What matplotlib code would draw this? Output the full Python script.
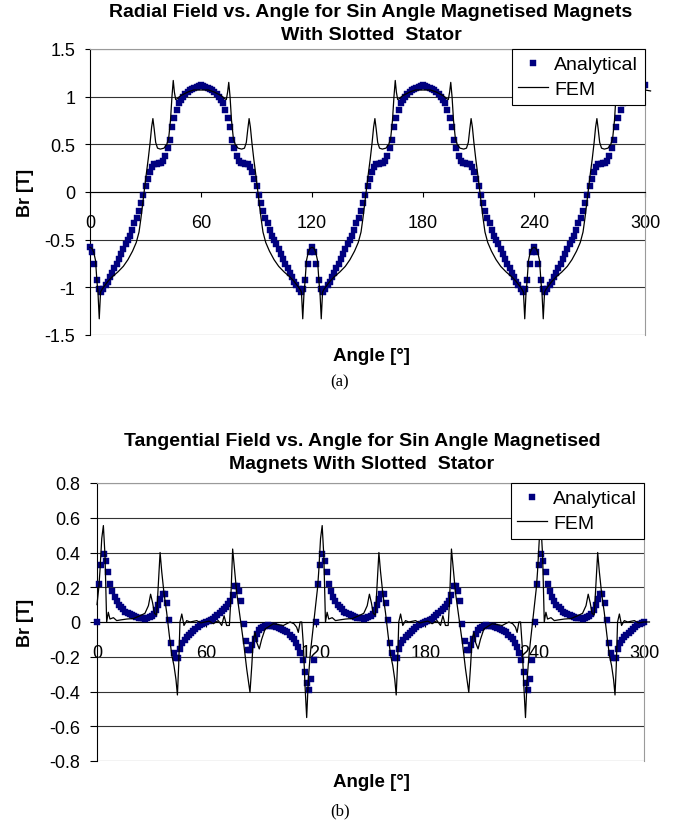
import matplotlib
matplotlib.use("Agg")
import matplotlib.pyplot as plt

plt.rcParams['font.family'] = ['Liberation Sans', 'DejaVu Sans']
plt.rcParams['axes.unicode_minus'] = False

# ---------------- data ----------------
x_ticks = [0, 60, 120, 180, 240, 300]
x_tick_labels = ['0', '60', '120', '180', '240', '300']
radial_yticks = [-1.5, -1, -0.5, 0, 0.5, 1, 1.5]
radial_ylabels = ['-1.5', '-1', '-0.5', '0', '0.5', '1', '1.5']
tang_yticks = [-0.8, -0.6, -0.4, -0.2, 0, 0.2, 0.4, 0.6, 0.8]
tang_ylabels = ['-0.8', '-0.6', '-0.4', '-0.2', '0', '0.2', '0.4', '0.6', '0.8']

analytical_angle = [
    0, 1.2, 2.4, 3.6, 4.8, 6, 7.2, 8.4, 9.6, 10.8,
    12, 13.2, 14.4, 15.6, 16.8, 18, 19.2, 20.4, 21.6, 22.8,
    24, 25.2, 26.4, 27.6, 28.8, 30, 31.2, 32.4, 33.6, 34.8,
    36, 37.2, 38.4, 39.6, 40.8, 42, 43.2, 44.4, 45.6, 46.8,
    48, 49.2, 50.4, 51.6, 52.8, 54, 55.2, 56.4, 57.6, 58.8,
    60, 61.2, 62.4, 63.6, 64.8, 66, 67.2, 68.4, 69.6, 70.8,
    72, 73.2, 74.4, 75.6, 76.8, 78, 79.2, 80.4, 81.6, 82.8,
    84, 85.2, 86.4, 87.6, 88.8, 90, 91.2, 92.4, 93.6, 94.8,
    96, 97.2, 98.4, 99.6, 100.8, 102, 103.2, 104.4, 105.6, 106.8,
    108, 109.2, 110.4, 111.6, 112.8, 114, 115.2, 116.4, 117.6, 118.8,
    120, 121.2, 122.4, 123.6, 124.8, 126, 127.2, 128.4, 129.6, 130.8,
    132, 133.2, 134.4, 135.6, 136.8, 138, 139.2, 140.4, 141.6, 142.8,
    144, 145.2, 146.4, 147.6, 148.8, 150, 151.2, 152.4, 153.6, 154.8,
    156, 157.2, 158.4, 159.6, 160.8, 162, 163.2, 164.4, 165.6, 166.8,
    168, 169.2, 170.4, 171.6, 172.8, 174, 175.2, 176.4, 177.6, 178.8,
    180, 181.2, 182.4, 183.6, 184.8, 186, 187.2, 188.4, 189.6, 190.8,
    192, 193.2, 194.4, 195.6, 196.8, 198, 199.2, 200.4, 201.6, 202.8,
    204, 205.2, 206.4, 207.6, 208.8, 210, 211.2, 212.4, 213.6, 214.8,
    216, 217.2, 218.4, 219.6, 220.8, 222, 223.2, 224.4, 225.6, 226.8,
    228, 229.2, 230.4, 231.6, 232.8, 234, 235.2, 236.4, 237.6, 238.8,
    240, 241.2, 242.4, 243.6, 244.8, 246, 247.2, 248.4, 249.6, 250.8,
    252, 253.2, 254.4, 255.6, 256.8, 258, 259.2, 260.4, 261.6, 262.8,
    264, 265.2, 266.4, 267.6, 268.8, 270, 271.2, 272.4, 273.6, 274.8,
    276, 277.2, 278.4, 279.6, 280.8, 282, 283.2, 284.4, 285.6, 286.8,
    288, 289.2, 290.4, 291.6, 292.8, 294, 295.2, 296.4, 297.6, 298.8,
    300]

radial_analytical = [
    # 0 - 118.8
    -0.58, -0.63, -0.76, -0.92, -1.02, -1.05, -1.02, -0.98, -0.94, -0.89,
    -0.85, -0.80, -0.75, -0.70, -0.65, -0.60, -0.55, -0.50, -0.46, -0.40,
    -0.33, -0.27, -0.20, -0.12, -0.03, 0.06, 0.14, 0.21, 0.26, 0.29,
    0.29, 0.30, 0.30, 0.32, 0.38, 0.46, 0.55, 0.68, 0.78, 0.86,
    0.93, 0.97, 1.00, 1.03, 1.05, 1.07, 1.08, 1.09, 1.10, 1.11,
    1.12, 1.11, 1.10, 1.09, 1.08, 1.07, 1.05, 1.03, 1.00, 0.97,
    0.93, 0.86, 0.78, 0.68, 0.55, 0.46, 0.38, 0.32, 0.30, 0.30,
    0.29, 0.29, 0.26, 0.21, 0.14, 0.06, -0.03, -0.12, -0.20, -0.27,
    -0.33, -0.40, -0.46, -0.50, -0.55, -0.60, -0.65, -0.70, -0.75, -0.80,
    -0.85, -0.89, -0.94, -0.98, -1.02, -1.05, -1.02, -0.92, -0.76, -0.63,
    # 120 - 238.8
    -0.58, -0.63, -0.76, -0.92, -1.02, -1.05, -1.02, -0.98, -0.94, -0.89,
    -0.85, -0.80, -0.75, -0.70, -0.65, -0.60, -0.55, -0.50, -0.46, -0.40,
    -0.33, -0.27, -0.20, -0.12, -0.03, 0.06, 0.14, 0.21, 0.26, 0.29,
    0.29, 0.30, 0.30, 0.32, 0.38, 0.46, 0.55, 0.68, 0.78, 0.86,
    0.93, 0.97, 1.00, 1.03, 1.05, 1.07, 1.08, 1.09, 1.10, 1.11,
    1.12, 1.11, 1.10, 1.09, 1.08, 1.07, 1.05, 1.03, 1.00, 0.97,
    0.93, 0.86, 0.78, 0.68, 0.55, 0.46, 0.38, 0.32, 0.30, 0.30,
    0.29, 0.29, 0.26, 0.21, 0.14, 0.06, -0.03, -0.12, -0.20, -0.27,
    -0.33, -0.40, -0.46, -0.50, -0.55, -0.60, -0.65, -0.70, -0.75, -0.80,
    -0.85, -0.89, -0.94, -0.98, -1.02, -1.05, -1.02, -0.92, -0.76, -0.63,
    # 240 - 300
    -0.58, -0.63, -0.76, -0.92, -1.02, -1.05, -1.02, -0.98, -0.94, -0.89,
    -0.85, -0.80, -0.75, -0.70, -0.65, -0.60, -0.55, -0.50, -0.46, -0.40,
    -0.33, -0.27, -0.20, -0.12, -0.03, 0.06, 0.14, 0.21, 0.26, 0.29,
    0.29, 0.30, 0.30, 0.32, 0.38, 0.46, 0.55, 0.68, 0.78, 0.86,
    0.93, 0.97, 1.00, 1.03, 1.05, 1.07, 1.08, 1.09, 1.10, 1.11,
    1.12]

tangential_analytical = [
    # 0 - 118.8
    0.0, 0.22, 0.33, 0.39, 0.35, 0.29, 0.22, 0.18, 0.145, 0.12,
    0.10, 0.088, 0.075, 0.06, 0.051, 0.045, 0.039, 0.033, 0.028, 0.025,
    0.022, 0.021, 0.020, 0.023, 0.029, 0.036, 0.047, 0.068, 0.095, 0.13,
    0.16, 0.16, 0.11, 0.01, -0.12, -0.18, -0.21, -0.21, -0.155, -0.12,
    -0.105, -0.088, -0.076, -0.064, -0.052, -0.04, -0.028, -0.018, -0.012, -0.006,
    0.0, 0.006, 0.012, 0.018, 0.028, 0.04, 0.052, 0.064, 0.076, 0.088,
    0.105, 0.12, 0.155, 0.21, 0.21, 0.18, 0.12, -0.01, -0.11, -0.16,
    -0.16, -0.13, -0.095, -0.068, -0.047, -0.036, -0.029, -0.023, -0.020, -0.021,
    -0.022, -0.025, -0.028, -0.033, -0.039, -0.045, -0.051, -0.06, -0.075, -0.088,
    -0.10, -0.12, -0.145, -0.18, -0.22, -0.29, -0.35, -0.39, -0.33, -0.22,
    # 120 - 238.8
    0.0, 0.22, 0.33, 0.39, 0.35, 0.29, 0.22, 0.18, 0.145, 0.12,
    0.10, 0.088, 0.075, 0.06, 0.051, 0.045, 0.039, 0.033, 0.028, 0.025,
    0.022, 0.021, 0.020, 0.023, 0.029, 0.036, 0.047, 0.068, 0.095, 0.13,
    0.16, 0.16, 0.11, 0.01, -0.12, -0.18, -0.21, -0.21, -0.155, -0.12,
    -0.105, -0.088, -0.076, -0.064, -0.052, -0.04, -0.028, -0.018, -0.012, -0.006,
    0.0, 0.006, 0.012, 0.018, 0.028, 0.04, 0.052, 0.064, 0.076, 0.088,
    0.105, 0.12, 0.155, 0.21, 0.21, 0.18, 0.12, -0.01, -0.11, -0.16,
    -0.16, -0.13, -0.095, -0.068, -0.047, -0.036, -0.029, -0.023, -0.020, -0.021,
    -0.022, -0.025, -0.028, -0.033, -0.039, -0.045, -0.051, -0.06, -0.075, -0.088,
    -0.10, -0.12, -0.145, -0.18, -0.22, -0.29, -0.35, -0.39, -0.33, -0.22,
    # 240 - 300
    0.0, 0.22, 0.33, 0.39, 0.35, 0.29, 0.22, 0.18, 0.145, 0.12,
    0.10, 0.088, 0.075, 0.06, 0.051, 0.045, 0.039, 0.033, 0.028, 0.025,
    0.022, 0.021, 0.020, 0.023, 0.029, 0.036, 0.047, 0.068, 0.095, 0.13,
    0.16, 0.16, 0.11, 0.01, -0.12, -0.18, -0.21, -0.21, -0.155, -0.12,
    -0.105, -0.088, -0.076, -0.064, -0.052, -0.04, -0.028, -0.018, -0.012, -0.006,
    0.0]

# FEM radial field (polyline vertices)
fem_radial_angle_1 = [
    0, 1, 2, 3, 3.8, 4.3, 5.0, 5.7, 6.5, 8,
    10, 12, 15, 18, 20.5, 23, 25, 26.5, 27.5, 28.5,
    29.5, 30.5, 31.5, 32.5, 33.3, 34.0, 34.7, 35.5, 36.5, 38,
    40, 41.5, 42.5, 43.5, 44.3, 45.0, 45.6, 46.3, 47.3, 49,
    51, 53, 56, 60, 64, 67, 69, 71, 72.7, 73.7,
    74.4, 75.0, 75.7, 76.5, 77.5, 78.5, 80, 82, 83.5, 84.5,
    85.3, 86.0, 86.7, 87.5, 88.5, 89.5, 90.5, 91.5, 92.5, 93.5,
    95, 97, 99.5, 102, 105, 108, 110, 112, 113.5, 114.3,
    115.0, 115.7, 116.2, 117, 118, 119]
fem_radial_value_1 = [
    -0.58, -0.59, -0.63, -0.72, -0.95, -1.05, -1.33, -1.05, -1.02, -0.98,
    -0.93, -0.89, -0.84, -0.78, -0.71, -0.62, -0.53, -0.42, -0.28, -0.12,
    0.04, 0.20, 0.35, 0.52, 0.68, 0.77, 0.66, 0.52, 0.46, 0.45,
    0.46, 0.50, 0.56, 0.75, 1.00, 1.17, 1.05, 0.97, 0.98, 1.01,
    1.03, 1.05, 1.07, 1.07, 1.07, 1.05, 1.03, 1.01, 0.98, 0.97,
    1.05, 1.15, 1.00, 0.75, 0.56, 0.50, 0.46, 0.45, 0.46, 0.52,
    0.66, 0.77, 0.68, 0.52, 0.35, 0.20, 0.04, -0.12, -0.28, -0.42,
    -0.53, -0.62, -0.71, -0.78, -0.84, -0.89, -0.93, -0.98, -1.02, -1.05,
    -1.33, -1.05, -0.95, -0.72, -0.63, -0.59]
fem_radial_angle_2 = [
    120, 121, 122, 123, 123.8, 124.3, 125.0, 125.7, 126.5, 128,
    130, 132, 135, 138, 140.5, 143, 145, 146.5, 147.5, 148.5,
    149.5, 150.5, 151.5, 152.5, 153.3, 154.0, 154.7, 155.5, 156.5, 158,
    160, 161.5, 162.5, 163.5, 164.3, 165.0, 165.6, 166.3, 167.3, 169,
    171, 173, 176, 180, 184, 187, 189, 191, 192.7, 193.7,
    194.4, 195.0, 195.7, 196.5, 197.5, 198.5, 200, 202, 203.5, 204.5,
    205.3, 206.0, 206.7, 207.5, 208.5, 209.5, 210.5, 211.5, 212.5, 213.5,
    215, 217, 219.5, 222, 225, 228, 230, 232, 233.5, 234.3,
    235.0, 235.7, 236.2, 237, 238, 239]
fem_radial_value_2 = [
    -0.58, -0.59, -0.63, -0.72, -0.95, -1.05, -1.33, -1.05, -1.02, -0.98,
    -0.93, -0.89, -0.84, -0.78, -0.71, -0.62, -0.53, -0.42, -0.28, -0.12,
    0.04, 0.20, 0.35, 0.52, 0.68, 0.77, 0.66, 0.52, 0.46, 0.45,
    0.46, 0.50, 0.56, 0.75, 1.00, 1.17, 1.05, 0.97, 0.98, 1.01,
    1.03, 1.05, 1.07, 1.07, 1.07, 1.05, 1.03, 1.01, 0.98, 0.97,
    1.05, 1.15, 1.00, 0.75, 0.56, 0.50, 0.46, 0.45, 0.46, 0.52,
    0.66, 0.77, 0.68, 0.52, 0.35, 0.20, 0.04, -0.12, -0.28, -0.42,
    -0.53, -0.62, -0.71, -0.78, -0.84, -0.89, -0.93, -0.98, -1.02, -1.05,
    -1.33, -1.05, -0.95, -0.72, -0.63, -0.59]
fem_radial_angle_3 = [
    240, 241, 242, 243, 243.8, 244.3, 245.0, 245.7, 246.5, 248,
    250, 252, 255, 258, 260.5, 263, 265, 266.5, 267.5, 268.5,
    269.5, 270.5, 271.5, 272.5, 273.3, 274.0, 274.7, 275.5, 276.5, 278,
    280, 281.5, 282.5, 283.5, 284.3, 285.0, 285.6, 286.3, 287.3, 289,
    291, 293, 296, 300, 303]
fem_radial_value_3 = [
    -0.58, -0.59, -0.63, -0.72, -0.95, -1.05, -1.33, -1.05, -1.02, -0.98,
    -0.93, -0.89, -0.84, -0.78, -0.71, -0.62, -0.53, -0.42, -0.28, -0.12,
    0.04, 0.20, 0.35, 0.52, 0.68, 0.77, 0.66, 0.52, 0.46, 0.45,
    0.46, 0.50, 0.56, 0.75, 1.00, 1.17, 1.05, 0.97, 0.98, 1.01,
    1.03, 1.05, 1.07, 1.07, 1.06]

# FEM tangential field (polyline vertices)
fem_tang_angle_1 = [
    0, 1.0, 1.6, 2.6, 3.5, 4.4, 5.3, 6.2, 7.1, 9.0,
    10.8, 13.0, 16.3, 20.0, 23.6, 26.3, 28.2, 29.4, 30.5, 31.5,
    32.7, 33.6, 34.6, 35.5, 36.8, 38.2, 39.7, 41.0, 42.2, 43.3,
    44.1, 44.8, 45.5, 46.5, 47.7, 49.2, 51.0, 54.7, 57.0, 59.3,
    61.5, 63.8, 66.5, 68.4, 69.7, 71.1, 72.6, 73.3, 74.4, 75.3,
    76.6, 78.1, 79.4, 80.6, 82.1, 83.9, 84.9, 85.7, 86.7, 87.6,
    89.0, 90.3, 92.2, 96.7, 102.2, 105.9, 108.0, 109.5, 110.4, 111.4,
    112.3, 113.2, 114.1, 115.0, 115.9, 117.0, 118.7]
fem_tang_value_1 = [
    0.10, 0.20, 0.29, 0.48, 0.555, 0.38, 0.0, 0.056, 0.017, 0.025,
    0.008, 0.012, 0.017, 0.02, 0.036, 0.05, 0.094, 0.16, 0.11, 0.05,
    0.04, 0.21, 0.40, 0.29, 0.16, 0.056, -0.08, -0.19, -0.25, -0.33,
    -0.42, -0.25, 0.0, 0.046, -0.02, 0.008, 0.0, 0.008, -0.005, 0.0,
    0.005, -0.01, 0.008, -0.02, 0.036, -0.02, -0.02, 0.11, 0.42, 0.32,
    0.17, 0.056, -0.04, -0.136, -0.27, -0.405, -0.25, -0.10, -0.06, -0.117,
    -0.155, -0.10, -0.04, -0.01, -0.02, 0.0, -0.01, -0.03, -0.06, 0.0,
    0.0, -0.136, -0.37, -0.55, -0.33, -0.18, -0.02]
fem_tang_angle_2 = [
    120, 121.0, 121.6, 122.6, 123.5, 124.4, 125.3, 126.2, 127.1, 129.0,
    130.8, 133.0, 136.3, 140.0, 143.6, 146.3, 148.2, 149.4, 150.5, 151.5,
    152.7, 153.6, 154.6, 155.5, 156.8, 158.2, 159.7, 161.0, 162.2, 163.3,
    164.1, 164.8, 165.5, 166.5, 167.7, 169.2, 171.0, 174.7, 177.0, 179.3,
    181.5, 183.8, 186.5, 188.4, 189.7, 191.1, 192.6, 193.3, 194.4, 195.3,
    196.6, 198.1, 199.4, 200.6, 202.1, 203.9, 204.9, 205.7, 206.7, 207.6,
    209.0, 210.3, 212.2, 216.7, 222.2, 225.9, 228.0, 229.5, 230.4, 231.4,
    232.3, 233.2, 234.1, 235.0, 235.9, 237.0, 238.7]
fem_tang_value_2 = [
    0.10, 0.20, 0.29, 0.48, 0.555, 0.38, 0.0, 0.056, 0.017, 0.025,
    0.008, 0.012, 0.017, 0.02, 0.036, 0.05, 0.094, 0.16, 0.11, 0.05,
    0.04, 0.21, 0.40, 0.29, 0.16, 0.056, -0.08, -0.19, -0.25, -0.33,
    -0.42, -0.25, 0.0, 0.046, -0.02, 0.008, 0.0, 0.008, -0.005, 0.0,
    0.005, -0.01, 0.008, -0.02, 0.036, -0.02, -0.02, 0.11, 0.42, 0.32,
    0.17, 0.056, -0.04, -0.136, -0.27, -0.405, -0.25, -0.10, -0.06, -0.117,
    -0.155, -0.10, -0.04, -0.01, -0.02, 0.0, -0.01, -0.03, -0.06, 0.0,
    0.0, -0.136, -0.37, -0.55, -0.33, -0.18, -0.02]
fem_tang_angle_3 = [
    240, 241.0, 241.6, 242.6, 243.5, 244.4, 245.3, 246.2, 247.1, 249.0,
    250.8, 253.0, 256.3, 260.0, 263.6, 266.3, 268.2, 269.4, 270.5, 271.5,
    272.7, 273.6, 274.6, 275.5, 276.8, 278.2, 279.7, 281.0, 282.2, 283.3,
    284.1, 284.8, 285.5, 286.5, 287.7, 289.2, 291.0, 294.7, 297.0, 300.0,
    303.0]
fem_tang_value_3 = [
    0.10, 0.20, 0.29, 0.48, 0.555, 0.38, 0.0, 0.056, 0.017, 0.025,
    0.008, 0.012, 0.017, 0.02, 0.036, 0.05, 0.094, 0.16, 0.11, 0.05,
    0.04, 0.21, 0.40, 0.29, 0.16, 0.056, -0.08, -0.19, -0.25, -0.33,
    -0.42, -0.25, 0.0, 0.046, -0.02, 0.008, 0.0, 0.008, -0.005, 0.0,
    0.0]

fem_radial_angle = fem_radial_angle_1 + fem_radial_angle_2 + fem_radial_angle_3
fem_radial_value = fem_radial_value_1 + fem_radial_value_2 + fem_radial_value_3
fem_tang_angle = fem_tang_angle_1 + fem_tang_angle_2 + fem_tang_angle_3
fem_tang_value = fem_tang_value_1 + fem_tang_value_2 + fem_tang_value_3

# ---------------- figure ----------------
W, H = 678, 829
fig = plt.figure(figsize=(W / 100, H / 100), dpi=100)
fig.patch.set_facecolor('white')

NAVY = '#00007f'


def px_axes(left, top, right, bottom):
    return fig.add_axes([left / W, 1 - bottom / H, (right - left) / W, (bottom - top) / H])


def style_axes(ax, yticks, ylabels, tick_len_px):
    ax.set_xlim(0, 300)
    ax.set_ylim(yticks[0], yticks[-1])
    ax.set_yticks(yticks)
    ax.set_yticklabels(ylabels)
    ax.set_xticks(x_ticks)
    ax.set_xticklabels(x_tick_labels)
    ax.spines['bottom'].set_position(('data', 0))
    ax.spines['bottom'].set_color('black')
    ax.spines['bottom'].set_linewidth(0.8)
    ax.spines['left'].set_color('black')
    ax.spines['left'].set_linewidth(0.8)
    ax.spines['right'].set_color('#9a9a9a')
    ax.spines['right'].set_linewidth(0.8)
    ax.spines['top'].set_color('#9a9a9a')
    ax.spines['top'].set_linewidth(0.8)
    ax.yaxis.grid(True, color='#333333', linewidth=0.8)
    ax.xaxis.grid(False)
    ax.set_axisbelow(True)
    ax.tick_params(axis='y', direction='out', length=tick_len_px * 0.72, width=0.8,
                   pad=7.0, labelsize=13, colors='black')
    ax.tick_params(axis='x', direction='out', length=3.5, width=0.8,
                   pad=12, labelsize=13, colors='black')


def add_legend(ax):
    leg = ax.legend(loc='upper right', bbox_to_anchor=(1.0, 1.0), borderaxespad=0.0,
                    frameon=True, fancybox=False, framealpha=1.0, edgecolor='black',
                    fontsize=14, handlelength=1.5, handletextpad=0.35, borderpad=0.35,
                    labelspacing=0.35, markerscale=1.0)
    leg.get_frame().set_linewidth(0.8)
    return leg


# ---- (a) radial ----
ax1 = px_axes(90, 50, 645, 336)
style_axes(ax1, radial_yticks, radial_ylabels, 5)
ax1.plot(analytical_angle, radial_analytical, linestyle='none', marker='s', markersize=3.8,
         markerfacecolor=NAVY, markeredgecolor=NAVY, markeredgewidth=0.3,
         clip_on=False, zorder=3, label='Analytical')
ax1.plot(fem_radial_angle, fem_radial_value, color='black', linewidth=0.9,
         clip_on=False, zorder=4, label='FEM')
add_legend(ax1)

fig.text(371 / W, 1 - 17 / H, 'Radial Field vs. Angle for Sin Angle Magnetised Magnets',
         ha='center', va='baseline', fontsize=14, fontweight='bold')
fig.text(371 / W, 1 - 40 / H, 'With Slotted  Stator',
         ha='center', va='baseline', fontsize=14, fontweight='bold')
fig.text(25 / W, 1 - 193 / H, 'Br [T]', rotation=90, ha='center', va='center',
         fontsize=13, fontweight='bold')
fig.text(371 / W, 1 - 361 / H, 'Angle [°]', ha='center', va='baseline',
         fontsize=13.5, fontweight='bold')
fig.text(340 / W, 1 - 386 / H, '(a)', ha='center', va='baseline', fontsize=12,
         family=['Liberation Serif', 'DejaVu Serif'])

# ---- (b) tangential ----
ax2 = px_axes(97, 484, 644, 762)
style_axes(ax2, tang_yticks, tang_ylabels, 7)
ax2.plot(analytical_angle, tangential_analytical, linestyle='none', marker='s', markersize=3.8,
         markerfacecolor=NAVY, markeredgecolor=NAVY, markeredgewidth=0.3,
         clip_on=False, zorder=3, label='Analytical')
ax2.plot(fem_tang_angle, fem_tang_value, color='black', linewidth=0.9,
         clip_on=False, zorder=4, label='FEM')
add_legend(ax2)

fig.text(362 / W, 1 - 446 / H, 'Tangential Field vs. Angle for Sin Angle Magnetised',
         ha='center', va='baseline', fontsize=14, fontweight='bold')
fig.text(362 / W, 1 - 469 / H, 'Magnets With Slotted  Stator',
         ha='center', va='baseline', fontsize=14, fontweight='bold')
fig.text(25 / W, 1 - 623 / H, 'Br [T]', rotation=90, ha='center', va='center',
         fontsize=13, fontweight='bold')
fig.text(371 / W, 1 - 787 / H, 'Angle [°]', ha='center', va='baseline',
         fontsize=13.5, fontweight='bold')
fig.text(340 / W, 1 - 815 / H, '(b)', ha='center', va='baseline', fontsize=12,
         family=['Liberation Serif', 'DejaVu Serif'])

fig.savefig('out.png', dpi=100, facecolor='white')
